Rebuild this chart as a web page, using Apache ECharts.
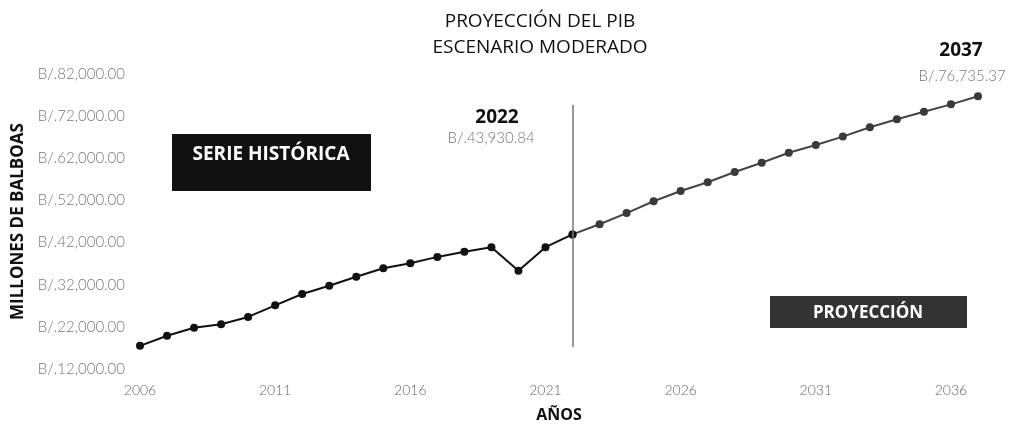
<!DOCTYPE html>
<html><head><meta charset="utf-8">
<script src="https://cdn.jsdelivr.net/npm/echarts@6/dist/echarts.min.js"></script>
<style>html,body{margin:0;padding:0;background:#fff}#c{width:1014px;height:427px}</style>
</head><body><div id="c"></div>
<script>
const years = ['2006','2007','2008','2009','2010','2011','2012','2013','2014','2015','2016','2017','2018','2019','2020','2021','2022','2023','2024','2025','2026','2027','2028','2029','2030','2031','2032','2033','2034','2035','2036','2037'];
const historico = [17500,19900,21800,22600,24350,27100,29800,31750,33900,35900,37100,38600,39800,40900,35300,40900,43930.84];
const proyeccion = [43930.84,46350,49000,51800,54250,56300,58750,60950,63300,65150,67150,69350,71250,73050,74800,76735.37];
const yTicks = {min:12000, max:82000, interval:10000};

const histData = years.map((y,i)=> i < historico.length ? historico[i] : '-');
const projStart = years.indexOf('2022');
const projData = years.map((y,i)=> i >= projStart ? proyeccion[i-projStart] : '-');

function fmt(v){ return 'B/.' + v.toLocaleString('en-US',{minimumFractionDigits:2, maximumFractionDigits:2}); }

const chart = echarts.init(document.getElementById('c'));
chart.setOption({
  backgroundColor:'#fff',
  animation:false,
  grid:{left:140, right:36, top:74, bottom:58, containLabel:false, outerBoundsMode:'none'},
  graphic:[
    {type:'text', x:540, y:9, style:{text:'PROYECCIÓN DEL PIB\nESCENARIO MODERADO', fill:'#111', font:'500 19px "Open Sans"', textAlign:'center', lineHeight:26}},
    {type:'group', x:172, y:134, children:[
      {type:'rect', shape:{x:0,y:0,width:199,height:57}, style:{fill:'#111'}},
      {type:'text', x:99, y:11, style:{text:'SERIE HISTÓRICA', fill:'#fff', font:'bold 19px "Open Sans"', textAlign:'center'}}
    ]},
    {type:'group', x:770, y:296, children:[
      {type:'rect', shape:{x:0,y:0,width:197,height:32}, style:{fill:'#333'}},
      {type:'text', x:98, y:9, style:{text:'PROYECCIÓN', fill:'#fff', font:'bold 17px "Open Sans"', textAlign:'center'}}
    ]},
    {type:'text', x:497, y:108, style:{text:'2022', fill:'#111', font:'bold 19px "Open Sans"', textAlign:'center'}},
    {type:'text', x:491, y:131, style:{text:fmt(historico[historico.length-1]), fill:'#777', font:'300 15px Lato', textAlign:'center'}},
    {type:'text', x:961, y:41, style:{text:'2037', fill:'#111', font:'bold 19px "Open Sans"', textAlign:'center'}},
    {type:'text', x:962, y:69, style:{text:fmt(proyeccion[proyeccion.length-1]), fill:'#777', font:'300 15px Lato', textAlign:'center'}}
  ],
  xAxis:{
    type:'category', data:years, boundaryGap:false,
    axisLine:{show:false}, axisTick:{show:false}, splitLine:{show:false},
    axisLabel:{interval:4, color:'#666', fontFamily:'Lato', fontWeight:300, fontSize:14, margin:14},
    name:'AÑOS', nameLocation:'middle', nameGap:38,
    nameTextStyle:{color:'#111', fontFamily:'Open Sans', fontWeight:'bold', fontSize:16}
  },
  yAxis:{
    type:'value', min:yTicks.min, max:yTicks.max, interval:yTicks.interval,
    axisLine:{show:false}, axisTick:{show:false}, splitLine:{show:false},
    axisLabel:{color:'#777', fontFamily:'Lato', fontWeight:300, fontSize:15, margin:15, formatter:v=>fmt(v), align:'right'},
    name:'MILLONES DE BALBOAS', nameLocation:'middle', nameGap:112, nameRotate:90,
    nameTextStyle:{color:'#111', fontFamily:'Open Sans', fontWeight:'bold', fontSize:17}
  },
  series:[
    {type:'line', data:histData, symbol:'circle', symbolSize:8, showSymbol:true,
     lineStyle:{color:'#111', width:2}, itemStyle:{color:'#111'}, z:3},
    {type:'line', data:projData, symbol:'circle', symbolSize:8, showSymbol:true,
     lineStyle:{color:'#444', width:2}, itemStyle:{color:'#3a3a3a'}, z:2,
     markLine:{silent:true, symbol:'none', label:{show:false},
       lineStyle:{color:'#777', width:1.5, type:'solid'},
       data:[[{coord:['2022',17200]},{coord:['2022',74700]}]]}}
  ]
});
</script></body></html>
